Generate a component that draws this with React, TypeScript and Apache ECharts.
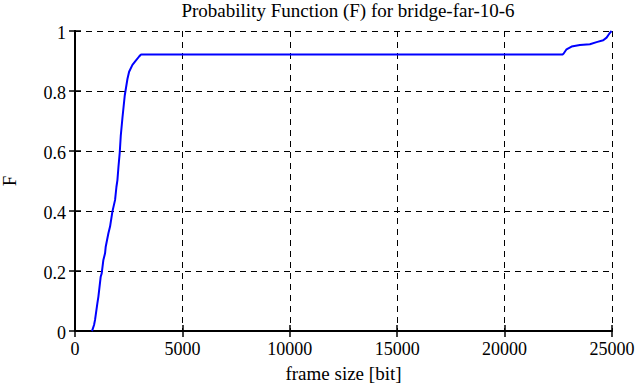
import React, { useEffect, useRef } from "react";
import * as echarts from "echarts";

const titleText = "Probability Function (F) for bridge-far-10-6";
const xName = "frame size [bit]";
const yName = "F";

const frameSize = [
  780, 808, 886, 933, 1041, 1088, 1197, 1243, 1321, 1399, 1430, 1555, 1632,
  1741, 1866, 1928, 1975, 2021, 2083, 2130, 2208, 2316, 2441, 2519, 2674, 2830,
  2985, 3062, 3109, 22700, 22750, 22884, 23118, 23505, 23971, 24282, 24593,
  24748, 24873, 24982,
];
const probF = [
  0, 0.003, 0.02, 0.037, 0.092, 0.114, 0.181, 0.192, 0.237, 0.259, 0.281,
  0.326, 0.348, 0.398, 0.437, 0.48, 0.503, 0.545, 0.595, 0.65, 0.71, 0.785,
  0.84, 0.864, 0.887, 0.901, 0.915, 0.921, 0.922, 0.922, 0.925, 0.939, 0.948,
  0.953, 0.956, 0.963, 0.969, 0.978, 0.991, 1.0,
];

const FONT = "'Liberation Serif', 'Times New Roman', serif";

export default function App() {
  const ref = useRef<HTMLDivElement>(null);
  useEffect(() => {
    if (!ref.current) return;
    document.body.style.margin = "0";
    document.body.style.overflow = "hidden";
    const chart = echarts.init(ref.current, null, { renderer: "svg" });
    const data = frameSize.map((x, i) => [x, probF[i]]);
    const splitLine = {
      show: true,
      lineStyle: { color: "#000", width: 1, type: [6, 5] as any },
    };
    const axisLine = { show: true, lineStyle: { color: "#000", width: 2 } };
    const axisTick = {
      show: true,
      inside: true,
      length: 6,
      lineStyle: { color: "#000", width: 1.5 },
    };
    const richT = {
      t: { fontFamily: FONT, fontSize: 18, color: "#000" },
    };
    chart.setOption({
      animation: false,
      backgroundColor: "#fff",
      textStyle: { fontFamily: FONT },
      title: {
        text: titleText,
        left: 343,
        textAlign: "center",
        top: -4,
        textStyle: {
          fontFamily: FONT,
          fontSize: 19,
          fontWeight: "normal",
          color: "#000",
        },
      },
      grid: {
        left: 75,
        right: 27,
        top: 31,
        bottom: 56,
        containLabel: false,
        outerBoundsMode: "none",
      },
      xAxis: [
        {
          type: "value",
          min: 0,
          max: 25000,
          interval: 5000,
          name: xName,
          nameLocation: "middle",
          nameGap: 33,
          nameTextStyle: { fontFamily: FONT, fontSize: 19, color: "#000" },
          axisLine,
          axisTick,
          splitLine,
          axisLabel: {
            fontFamily: FONT,
            fontSize: 18,
            color: "#000",
            margin: 9,
            rich: richT,
            formatter: (v: number) => `{t|${v}}`,
          },
        },
        {
          type: "value",
          position: "top",
          min: 0,
          max: 25000,
          interval: 5000,
          axisLine,
          axisTick,
          splitLine: { show: false },
          axisLabel: { show: false },
        },
      ],
      yAxis: [
        {
          type: "value",
          min: 0,
          max: 1,
          interval: 0.2,
          name: yName,
          nameLocation: "middle",
          nameRotate: 90,
          nameGap: 56,
          nameTextStyle: { fontFamily: FONT, fontSize: 19, color: "#000" },
          axisLine,
          axisTick,
          splitLine,
          axisLabel: {
            fontFamily: FONT,
            fontSize: 18,
            color: "#000",
            margin: 9,
            padding: [4, 0, 0, 0],
            rich: richT,
            formatter: (v: number) => `{t|${Math.round(v * 10) / 10}}`,
          },
        },
        {
          type: "value",
          position: "right",
          min: 0,
          max: 1,
          interval: 0.2,
          axisLine,
          axisTick,
          splitLine: { show: false },
          axisLabel: { show: false },
        },
      ],
      series: [
        {
          type: "line",
          data,
          showSymbol: false,
          symbol: "none",
          lineStyle: { color: "#0000ff", width: 2 },
          itemStyle: { color: "#0000ff" },
        },
      ],
    });
    return () => chart.dispose();
  }, []);
  return <div ref={ref} style={{ width: 639, height: 387 }} />;
}
